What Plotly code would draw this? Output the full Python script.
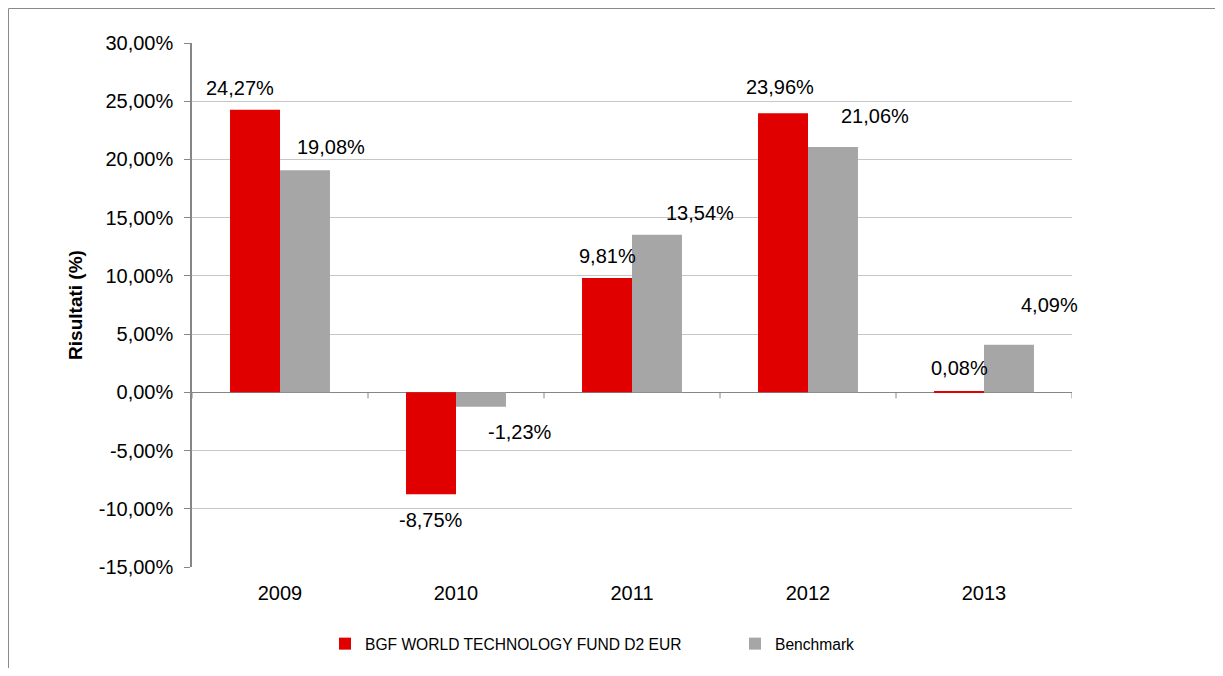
import plotly.graph_objects as go

# ---- data ----
years = ["2009", "2010", "2011", "2012", "2013"]
fund_name = "BGF WORLD TECHNOLOGY FUND D2 EUR"
bench_name = "Benchmark"
fund_values = [24.27, -8.75, 9.81, 23.96, 0.08]
bench_values = [19.08, -1.23, 13.54, 21.06, 4.09]
y_ticks = [-15, -10, -5, 0, 5, 10, 15, 20, 25, 30]
y_title = "Risultati (%)"

# ---- style ----
RED = "#e00000"
GRAY = "#a6a6a6"
AXIS = "#868686"
GRID = "#c6c6c6"
FRAME = "#8a8a8a"
FONT = "Liberation Sans, Arial, sans-serif"
OFF = 8                      # default page margin around the figure
W, H = 1223 - 2 * OFF, 676 - 2 * OFF
ML, MT = 192 - OFF, 43 - OFF
MR = W - (1072 - OFF)
MB = H - (567 - OFF)
PW, PH = W - ML - MR, H - MT - MB

# label nudges (px, screen-down positive) mimicking the original placement
fund_dx = [-15, 0, 0, -3, 0]
fund_dy = [-22, 26, -22, -26, -23]
bench_dx = [26, 39, 43, 42, 40]
bench_dy = [-23, 25, -22, -31, -40]
HALF_BAR = 25


def px_x(p):
    return (p - OFF - ML) / PW


def px_y(p):
    return (H + OFF - MB - p) / PH


def fmt(v):
    return f"{v:.2f}".replace(".", ",") + "%"


fig = go.Figure()
fig.add_trace(go.Bar(x=years, y=fund_values, name=fund_name,
                     marker=dict(color=RED, line=dict(width=0))))
fig.add_trace(go.Bar(x=years, y=bench_values, name=bench_name,
                     marker=dict(color=GRAY, line=dict(width=0))))

annotations = []
for i in range(len(years)):
    for vals, dx, dy, side in ((fund_values, fund_dx, fund_dy, -1),
                               (bench_values, bench_dx, bench_dy, 1)):
        annotations.append(dict(
            x=i, y=vals[i], xref="x", yref="y", text=fmt(vals[i]),
            showarrow=False, xanchor="center", yanchor="middle",
            xshift=side * HALF_BAR + dx[i], yshift=-dy[i],
            font=dict(family=FONT, size=20, color="#000000")))

shapes = []
# small ticks under the zero line at category boundaries
for k in range(len(years) + 1):
    shapes.append(dict(type="line", xref="x", yref="y", x0=k - 0.5, x1=k - 0.5,
                       ysizemode="pixel", yanchor=0, y0=0, y1=-6,
                       line=dict(color=AXIS, width=1)))
# outer frame fragments (left and top)
shapes.append(dict(type="line", xref="paper", yref="paper",
                   x0=px_x(8.5), x1=px_x(8.5), y0=px_y(8.5), y1=px_y(700),
                   line=dict(color=FRAME, width=1)))
shapes.append(dict(type="line", xref="paper", yref="paper",
                   x0=px_x(8.5), x1=px_x(1240), y0=px_y(8.5), y1=px_y(8.5),
                   line=dict(color=FRAME, width=1)))

fig.update_layout(
    width=W, height=H,
    margin=dict(l=ML, r=MR, t=MT, b=MB, pad=0, autoexpand=False),
    paper_bgcolor="white", plot_bgcolor="white",
    barmode="group", bargap=0.432, bargroupgap=0,
    font=dict(family=FONT, color="#000000"),
    showlegend=True,
    legend=dict(orientation="h", x=px_x(325), y=px_y(644),
                xanchor="left", yanchor="middle",
                entrywidth=365, entrywidthmode="pixels",
                font=dict(family=FONT, size=15.6, color="#000000"),
                itemclick=False, itemdoubleclick=False,
                bgcolor="rgba(0,0,0,0)"),
    annotations=annotations,
    shapes=shapes,
    xaxis=dict(type="category", range=[-0.5, len(years) - 0.5],
               showgrid=False, showline=False, ticks="", zeroline=False,
               automargin=False,
               tickfont=dict(family=FONT, size=20, color="#000000"),
               ticklabelstandoff=12, fixedrange=True),
    yaxis=dict(range=[-15, 30], tickmode="array", tickvals=y_ticks,
               ticktext=[fmt(v) for v in y_ticks],
               showgrid=True, gridcolor=GRID, gridwidth=1,
               showline=True, linecolor=AXIS, linewidth=1.5,
               ticks="outside", ticklen=6, tickcolor=AXIS, tickwidth=1,
               zeroline=True, zerolinecolor=AXIS, zerolinewidth=1,
               automargin=False,
               tickfont=dict(family=FONT, size=20, color="#000000"),
               ticklabelstandoff=7,
               title=dict(text="<b>" + y_title + "</b>", standoff=11,
                          font=dict(family=FONT, size=19, color="#000000")),
               fixedrange=True),
)

fig.write_html("out.html", config={"displayModeBar": False})
